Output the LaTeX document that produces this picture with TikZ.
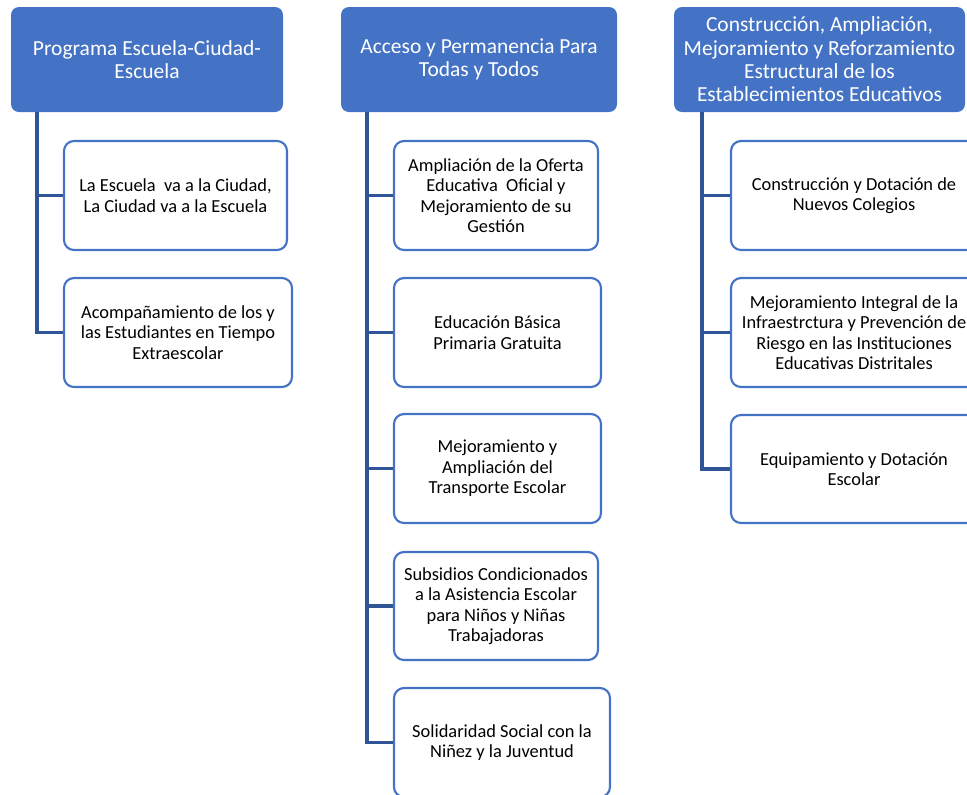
\documentclass[tikz,border=0pt]{standalone}
\usepackage{fontspec}
\setmainfont{Carlito}
\definecolor{boxblue}{HTML}{4472C4}
\definecolor{linkblue}{HTML}{2F5597}
\begin{document}
\begin{tikzpicture}[x=0.75pt,y=-0.75pt,
  header/.style={draw=none, fill=boxblue, text=white, rounded corners=6pt,
    align=center, inner sep=0pt, font=\fontsize{16.1}{17.5}\selectfont},
  item/.style={draw=boxblue, line width=1.6pt, fill=white, rounded corners=7.5pt,
    align=center, inner sep=0pt, font=\fontsize{13.8}{15.4}\selectfont},
  trunk/.style={draw=linkblue, line width=2.3pt}]
\useasboundingbox (0,0) rectangle (967,794);
\clip (0,0) rectangle (967,794);

% column headers
\node[header, minimum width=272*0.75pt, minimum height=105*0.75pt] (h1) at (147,59.5)
  {Programa Escuela-Ciudad-\\Escuela};
\node[header, minimum width=276*0.75pt, minimum height=105*0.75pt] (h2) at (479,59.5)
  {Acceso y Permanencia Para\\Todas y Todos};
\node[header, minimum width=291*0.75pt, minimum height=105*0.75pt] (h3) at (819.5,59.5)
  {Construcción, Ampliación,\\Mejoramiento y Reforzamiento\\Estructural de los\\Establecimientos Educativos};

% trunk start points below each header
\coordinate (t1) at (37,112);
\coordinate (t2) at (367,112);
\coordinate (t3) at (702,112);

% first column
\node[item, minimum width=223*0.75pt, minimum height=109*0.75pt] (a1) at (175.5,195.5)
  {La Escuela\ \ va a la Ciudad,\\La Ciudad va a la Escuela};
\node[item, minimum width=228*0.75pt, minimum height=109*0.75pt] (a2) at (178,332.5)
  {Acompañamiento de los y\\las Estudiantes en Tiempo\\Extraescolar};

% second column
\node[item, minimum width=204*0.75pt, minimum height=109*0.75pt] (b1) at (496,195.5)
  {Ampliación de la Oferta\\Educativa\ \ Oficial y\\Mejoramiento de su\\Gestión};
\node[item, minimum width=207*0.75pt, minimum height=109*0.75pt] (b2) at (497.5,332.5)
  {Educación Básica\\Primaria Gratuita};
\node[item, minimum width=207*0.75pt, minimum height=109*0.75pt] (b3) at (497.5,468.5)
  {Mejoramiento y\\Ampliación del\\Transporte Escolar};
\node[item, minimum width=204*0.75pt, minimum height=108*0.75pt] (b4) at (496,606)
  {Subsidios Condicionados\\a la Asistencia Escolar\\para Niños y Niñas\\Trabajadoras};
\node[item, minimum width=216*0.75pt, minimum height=109*0.75pt] (b5) at (502,742.5)
  {Solidaridad Social con la\\Niñez y la Juventud};

% third column
\node[item, minimum width=246*0.75pt, minimum height=109*0.75pt] (c1) at (854,195.5)
  {Construcción y Dotación de\\Nuevos Colegios};
\node[item, minimum width=246*0.75pt, minimum height=109*0.75pt] (c2) at (854,332.5)
  {Mejoramiento Integral de la\\Infraestrctura y Prevención de\\Riesgo en las Instituciones\\Educativas Distritales};
\node[item, minimum width=246*0.75pt, minimum height=108*0.75pt] (c3) at (854,469)
  {Equipamiento y Dotación\\Escolar};

% connectors
\foreach \c in {a1,a2} \draw[trunk] (t1) |- (\c.west);
\foreach \c in {b1,b2,b3,b4,b5} \draw[trunk] (t2) |- (\c.west);
\foreach \c in {c1,c2,c3} \draw[trunk] (t3) |- (\c.west);
\end{tikzpicture}
\end{document}
